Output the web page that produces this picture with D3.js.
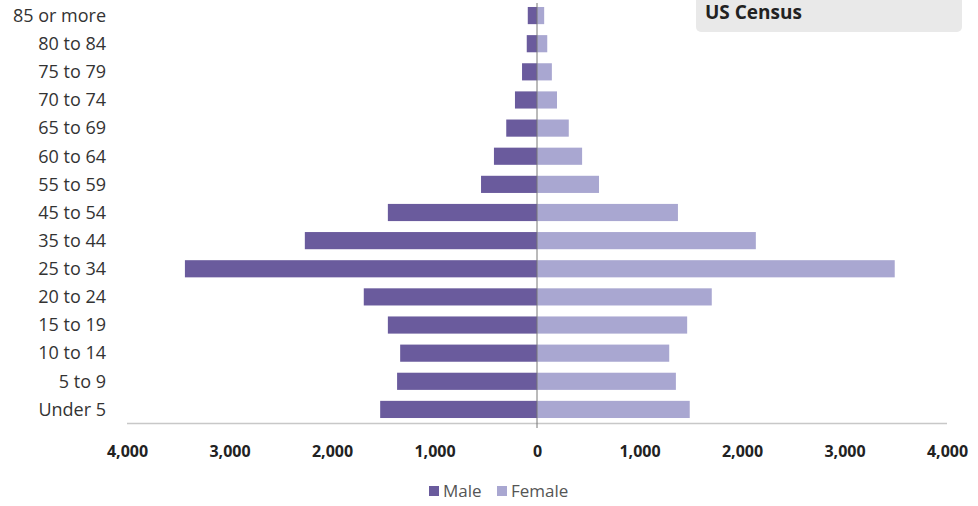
<!DOCTYPE html>
<html><head><meta charset="utf-8">
<script src="https://cdn.jsdelivr.net/npm/d3@7"></script>
<style>body{margin:0;background:#fff;}svg{display:block;}</style>
</head><body>
<svg id="c" width="978" height="506"></svg>
<script>
const categories = ["85 or more","80 to 84","75 to 79","70 to 74","65 to 69","60 to 64","55 to 59","45 to 54","35 to 44","25 to 34","20 to 24","15 to 19","10 to 14","5 to 9","Under 5"];
const maleValues = [90,100,146,215,300,420,546,1455,2265,3435,1690,1455,1335,1365,1530];
const femaleValues = [70,100,145,195,310,440,605,1375,2135,3490,1705,1465,1290,1355,1490];
const tickValues = [-4000,-3000,-2000,-1000,0,1000,2000,3000,4000];
const seriesNames = ["Male","Female"];
const title = "US Census";

const svg = d3.select("#c");
const font = "'Open Sans', 'Noto Sans', sans-serif";
const x = d3.scaleLinear().domain([-4000,4000]).range([127,947]);
const y = d3.scaleBand().domain(categories).range([1.5,423.5]).paddingInner(0.39).paddingOuter(0.195);
const colors = {Male:"#6a5b9d", Female:"#a9a7d1"};

// title box
svg.append("rect").attr("x",696).attr("y",-10).attr("width",266).attr("height",42).attr("rx",5)
  .attr("fill","#e9e9e9");
svg.append("text").attr("x",705).attr("y",19).text(title)
  .attr("font-family",font).attr("font-weight","bold").attr("font-size",19).attr("fill","#222");

// bars
svg.append("g").selectAll("rect").data(categories).join("rect")
  .attr("x",(d,i)=>x(-maleValues[i])).attr("y",d=>y(d))
  .attr("width",(d,i)=>x(0)-x(-maleValues[i])).attr("height",y.bandwidth())
  .attr("fill",colors.Male);
svg.append("g").selectAll("rect").data(categories).join("rect")
  .attr("x",x(0)).attr("y",d=>y(d))
  .attr("width",(d,i)=>x(femaleValues[i])-x(0)).attr("height",y.bandwidth())
  .attr("fill",colors.Female);

// baseline and zero line
svg.append("line").attr("x1",x(-4000)).attr("x2",x(4000)).attr("y1",423.5).attr("y2",423.5)
  .attr("stroke","#c8c8c8").attr("stroke-width",1.5);
svg.append("line").attr("x1",x(0)).attr("x2",x(0)).attr("y1",3).attr("y2",428)
  .attr("stroke","#777").attr("stroke-width",1);

// category labels
const yAxis = d3.axisLeft(y).tickSize(0).tickPadding(0);
const gy = svg.append("g").attr("transform","translate(106,0)").call(yAxis);
gy.select(".domain").remove();
gy.selectAll("text").attr("font-family",font).attr("font-size",18).attr("fill","#333").attr("dy","0.35em");

// x tick labels
const fmt = d3.format(",");
const xAxis = d3.axisBottom(x).tickValues(tickValues).tickSize(0).tickPadding(0).tickFormat(d=>fmt(Math.abs(d)));
const gx = svg.append("g").attr("transform","translate(0,451)").call(xAxis);
gx.select(".domain").remove();
gx.selectAll("text").attr("font-family",font).attr("font-weight","bold").attr("font-size",16).attr("fill","#222").attr("dy","0.35em").attr("y",0);

// legend
const legend = svg.append("g").attr("transform","translate(429,491)");
const lx = [0,68];
seriesNames.forEach((s,i)=>{
  legend.append("rect").attr("x",lx[i]).attr("y",-5).attr("width",10).attr("height",10).attr("fill",colors[s]);
  legend.append("text").attr("x",lx[i]+14).attr("y",0).attr("dy","0.35em").text(s)
    .attr("font-family",font).attr("font-size",17).attr("fill","#555");
});
</script>
</body></html>
